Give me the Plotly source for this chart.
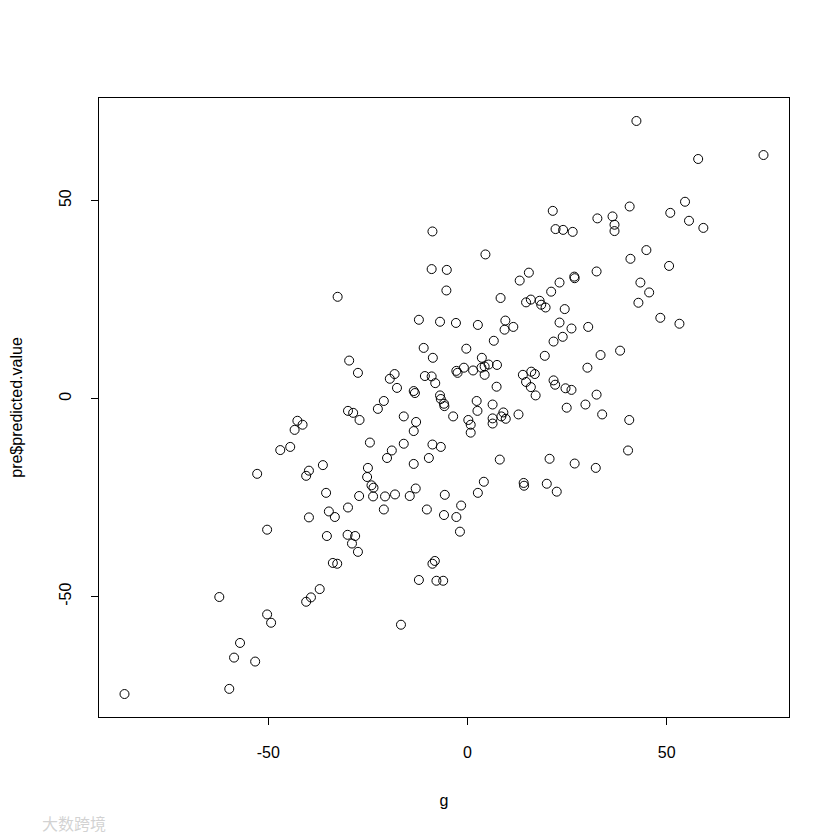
import plotly.graph_objects as go

g = [
    -8.8, -9.0, -5.2, -5.3, -32.6, 21.4, 32.6, 36.4, 36.9, 36.9,
    40.7, 22.1, 24.0, 26.4, 4.5, 40.9, 15.4, 13.1, 32.4, 26.8,
    26.9, 23.1, 21.0, 8.3, 14.7, 15.9, 18.1, 18.5, 19.6, 24.4,
    42.4, 57.9, 74.3, 54.6, 50.9, 55.6, 59.2, 44.9, 50.6, 43.4,
    45.6, 42.9, -12.2, -6.9, -2.9, -11.0, -8.7, -29.7, -27.5, -18.3,
    -19.5, -10.7, -9.0, -8.1, -2.8, -2.5, -17.7, -13.5, -13.2, -6.9,
    -6.7, -5.9, -5.8, -21.0, -22.5, -30.0, -28.7, -27.1, -3.6, -16.0,
    -12.9, -13.5, -42.7, -41.4, -43.4, -47.0, -44.5, -24.5, -16.0, -8.8,
    -6.7, -19.0, -20.2, -9.7, -13.5, -36.3, -39.8, -40.5, -25.0, -25.2,
    -24.1, -23.6, -13.0, -35.5, -27.2, -23.7, -20.7, -18.2, -14.5, -5.7,
    -30.0, -21.0, -10.2, -34.8, -33.3, -39.8, -5.9, -2.8, -35.3, -30.1,
    -28.2, -29.0, -27.5, -33.8, -32.7, -37.1, -39.3, -40.5, -16.7, -8.2,
    -8.8, -12.2, -7.8, -6.1, -1.9, -50.3, -62.3, -50.3, -49.3, -57.1,
    -58.6, -53.3, -59.8, -86.1, -52.8, 2.6, 9.5, 9.3, 11.5, 23.1,
    26.1, 30.3, 23.9, 21.6, 6.6, -0.3, 19.4, 33.4, 38.3, 3.6,
    -0.9, 1.4, 3.5, 4.3, 5.3, 4.3, 7.4, 30.1, 13.9, 16.0,
    16.9, 14.7, 15.9, 17.1, 21.6, 22.0, 24.6, 26.1, 7.3, 32.4,
    2.3, 6.3, 2.5, 24.9, 29.6, 33.8, 0.2, 0.8, 0.8, 6.3,
    6.3, 9.0, 8.5, 9.6, 12.8, 40.6, 40.3, 8.1, 20.6, 26.9,
    32.2, 4.1, 2.6, 14.1, 14.2, 19.9, 22.4, -1.6, 48.4, 53.2,
]
predicted_value = [
    42.2, 32.7, 32.5, 27.3, 25.7, 47.4, 45.5, 46.0, 43.9, 42.3,
    48.5, 42.8, 42.6, 42.1, 36.4, 35.3, 31.8, 29.8, 32.1, 30.8,
    30.4, 29.3, 27.0, 25.4, 24.3, 25.0, 24.7, 23.7, 23.0, 22.6,
    70.1, 60.5, 61.5, 49.7, 46.9, 44.9, 43.1, 37.5, 33.5, 29.3,
    26.8, 24.2, 19.9, 19.4, 19.1, 12.8, 10.3, 9.6, 6.5, 6.2,
    5.0, 5.7, 5.6, 3.9, 7.0, 6.5, 2.7, 1.9, 1.4, 0.8,
    -0.1, -1.3, -1.9, -0.6, -2.6, -3.1, -3.6, -5.4, -4.5, -4.5,
    -5.9, -8.2, -5.6, -6.6, -7.9, -13.0, -12.2, -11.1, -11.4, -11.6,
    -12.2, -13.1, -15.0, -15.0, -16.5, -16.8, -18.2, -19.5, -17.5, -19.8,
    -21.9, -22.5, -22.7, -23.8, -24.6, -24.7, -24.7, -24.2, -24.6, -24.3,
    -27.5, -28.0, -28.0, -28.5, -29.9, -30.0, -29.4, -29.9, -34.7, -34.4,
    -34.7, -36.6, -38.7, -41.5, -41.7, -48.1, -50.2, -51.3, -57.1, -41.0,
    -41.7, -45.8, -46.0, -46.0, -33.6, -33.1, -50.1, -54.5, -56.6, -61.7,
    -65.4, -66.4, -73.3, -74.6, -19.0, 18.6, 19.7, 17.4, 18.1, 19.2,
    17.7, 18.1, 15.6, 14.4, 14.6, 12.6, 10.8, 11.0, 12.1, 10.3,
    7.8, 7.1, 7.8, 8.1, 8.6, 6.0, 8.5, 7.8, 6.0, 6.8,
    6.2, 4.2, 2.9, 0.8, 4.6, 3.5, 2.6, 2.2, 3.0, 1.0,
    -0.6, -1.5, -3.1, -2.3, -1.5, -4.0, -5.4, -6.6, -8.6, -5.0,
    -6.3, -3.5, -4.5, -5.1, -4.0, -5.4, -13.1, -15.4, -15.2, -16.4,
    -17.5, -21.0, -23.8, -21.3, -22.0, -21.5, -23.5, -27.0, 20.4, 18.9,
]

tick_vals = [-50, 0, 50]
tick_text = ['-50', '0', '50']

font_family = 'Liberation Sans, Arial, sans-serif'

fig = go.Figure()
fig.add_trace(go.Scatter(
    x=g, y=predicted_value, mode='markers',
    marker=dict(symbol='circle-open', size=9, color='black', line=dict(width=1, color='black')),
    showlegend=False
))

axis_style = dict(
    showgrid=False, zeroline=False, showline=True, mirror=True,
    linecolor='black', linewidth=1, ticks='outside', ticklen=7,
    tickcolor='black', tickwidth=1, tickmode='array',
    tickvals=tick_vals, ticktext=tick_text,
    tickfont=dict(family=font_family, size=16, color='black'),
    ticklabelstandoff=14, automargin=False,
)

fig.update_xaxes(axis_style, range=[-92.5, 80.7],
                 title=dict(text='g', font=dict(family=font_family, size=16, color='black'), standoff=34))
fig.update_yaxes(axis_style, range=[-80.4, 75.9], tickangle=-90,
                 title=dict(text='pre$predicted.value', font=dict(family=font_family, size=16, color='black'),
                            standoff=34))

fig.update_layout(
    width=840, height=840,
    margin=dict(l=91, r=59, t=90, b=131),
    paper_bgcolor='white', plot_bgcolor='white',
    font=dict(family=font_family, size=16, color='black'),
    annotations=[dict(
        text='大数跨境', xref='paper', yref='paper', x=-0.085, y=-0.171,
        xanchor='left', yanchor='middle', showarrow=False,
        font=dict(family='Noto Sans CJK SC', size=16, color='rgba(180,180,180,0.6)')
    )]
)

fig.write_html("out.html")
